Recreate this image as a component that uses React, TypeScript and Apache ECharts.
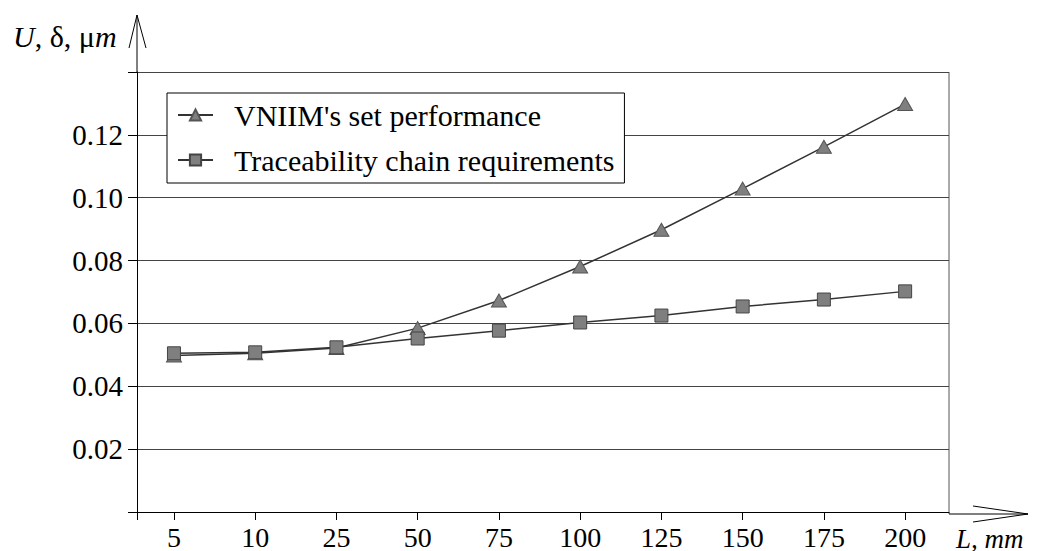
import React, { useEffect, useRef } from "react";
import * as echarts from "echarts";

const xLabels = ["5", "10", "25", "50", "75", "100", "125", "150", "175", "200"];
const vniimSet = [0.0498, 0.0505, 0.0522, 0.0585, 0.0673, 0.0781, 0.0898, 0.1029, 0.1162, 0.1298];
const traceChain = [0.0505, 0.0508, 0.0524, 0.0552, 0.0577, 0.0603, 0.0625, 0.0654, 0.0676, 0.0702];
const seriesNames = ["VNIIM's set performance", "Traceability chain requirements"];

const FONT = "Liberation Serif";

export default function App() {
  const ref = useRef<HTMLDivElement>(null);
  useEffect(() => {
    if (!ref.current) return;
    const chart = echarts.init(ref.current, null, { renderer: "svg" });
    // category positions 1..N on a value axis
    const pos = xLabels.map((_, i) => i + 1);
    const lineStyle = { color: "#333", width: 1.5 };
    chart.setOption({
      animation: false,
      backgroundColor: "#fff",
      grid: {
        left: 137,
        right: 88,
        top: 72,
        bottom: 37,
        show: false,
      },
      legend: {
        orient: "vertical",
        left: 167,
        top: 93,
        padding: [7, 10, 8, 10],
        itemGap: 15,
        itemWidth: 35,
        itemHeight: 14,
        backgroundColor: "#fff",
        borderColor: "#000",
        borderWidth: 1,
        borderRadius: 0,
        data: seriesNames,
        textStyle: {
          fontFamily: FONT,
          fontSize: 30,
          color: "#000",
          padding: [0, 0, 0, 16],
        },
      },
      xAxis: {
        type: "value",
        min: 0.545,
        max: 10.54,
        splitLine: { show: false },
        axisLine: { show: true, onZero: false, lineStyle: { color: "#000", width: 1 } },
        axisTick: {
          show: true,
          length: 8,
          inside: false,
          customValues: [0.545, ...pos],
          lineStyle: { color: "#000" },
        },
        axisLabel: {
          customValues: pos,
          formatter: (v: number) => xLabels[Math.round(v) - 1] ?? "",
          fontFamily: FONT,
          fontSize: 28,
          color: "#000",
          margin: 11,
        },
      },
      yAxis: {
        type: "value",
        min: 0,
        max: 0.14,
        interval: 0.02,
        axisLine: { show: true, onZero: false, lineStyle: { color: "#000", width: 1 } },
        axisTick: { show: true, length: 9, lineStyle: { color: "#000" } },
        splitLine: { show: true, lineStyle: { color: "#444", width: 1 } },
        axisLabel: {
          formatter: (v: number) => (v <= 0 || v >= 0.139 ? "" : v.toFixed(2)),
          fontFamily: FONT,
          fontSize: 29,
          color: "#000",
          margin: 14,
        },
      },
      series: [
        {
          name: seriesNames[0],
          type: "line",
          data: vniimSet.map((v, i) => [pos[i], v]),
          symbol: "triangle",
          symbolSize: [15, 13],
          lineStyle,
          itemStyle: { color: "#7f7f7f", borderColor: "#555", borderWidth: 1 },
          z: 3,
        },
        {
          name: seriesNames[1],
          type: "line",
          data: traceChain.map((v, i) => [pos[i], v]),
          symbol: "rect",
          symbolSize: 13,
          lineStyle,
          itemStyle: { color: "#7f7f7f", borderColor: "#444", borderWidth: 1 },
          z: 4,
        },
      ],
      graphic: [
        { type: "line", shape: { x1: 949, y1: 72, x2: 949, y2: 514 }, style: { stroke: "#555", lineWidth: 1 } },
        { type: "line", shape: { x1: 137, y1: 72, x2: 137, y2: 15 }, style: { stroke: "#000", lineWidth: 1 } },
        { type: "line", shape: { x1: 129, y1: 48, x2: 137, y2: 15 }, style: { stroke: "#000", lineWidth: 1 } },
        { type: "line", shape: { x1: 146, y1: 48, x2: 137, y2: 15 }, style: { stroke: "#000", lineWidth: 1 } },
        { type: "line", shape: { x1: 949, y1: 514, x2: 1028, y2: 514 }, style: { stroke: "#000", lineWidth: 1 } },
        { type: "line", shape: { x1: 973, y1: 506, x2: 1028, y2: 514 }, style: { stroke: "#000", lineWidth: 1 } },
        { type: "line", shape: { x1: 973, y1: 522, x2: 1028, y2: 514 }, style: { stroke: "#000", lineWidth: 1 } },
        {
          type: "text",
          x: 13,
          y: 36,
          style: {
            text: "{i|U}{n|, δ, μ}{i|m}",
            verticalAlign: "middle",
            align: "left",
            rich: {
              i: { fontFamily: FONT, fontSize: 30, fontStyle: "italic", fill: "#000" },
              n: { fontFamily: FONT, fontSize: 30, fill: "#000" },
            },
          },
        },
        {
          type: "text",
          x: 956,
          y: 539,
          style: {
            text: "L, mm",
            fontFamily: FONT,
            fontSize: 27,
            fontStyle: "italic",
            fill: "#000",
            verticalAlign: "middle",
            align: "left",
          },
        },
      ],
    });
    return () => chart.dispose();
  }, []);
  return (
    <div
      ref={ref}
      style={{ position: "fixed", left: 0, top: 0, width: 1037, height: 551 }}
    />
  );
}
